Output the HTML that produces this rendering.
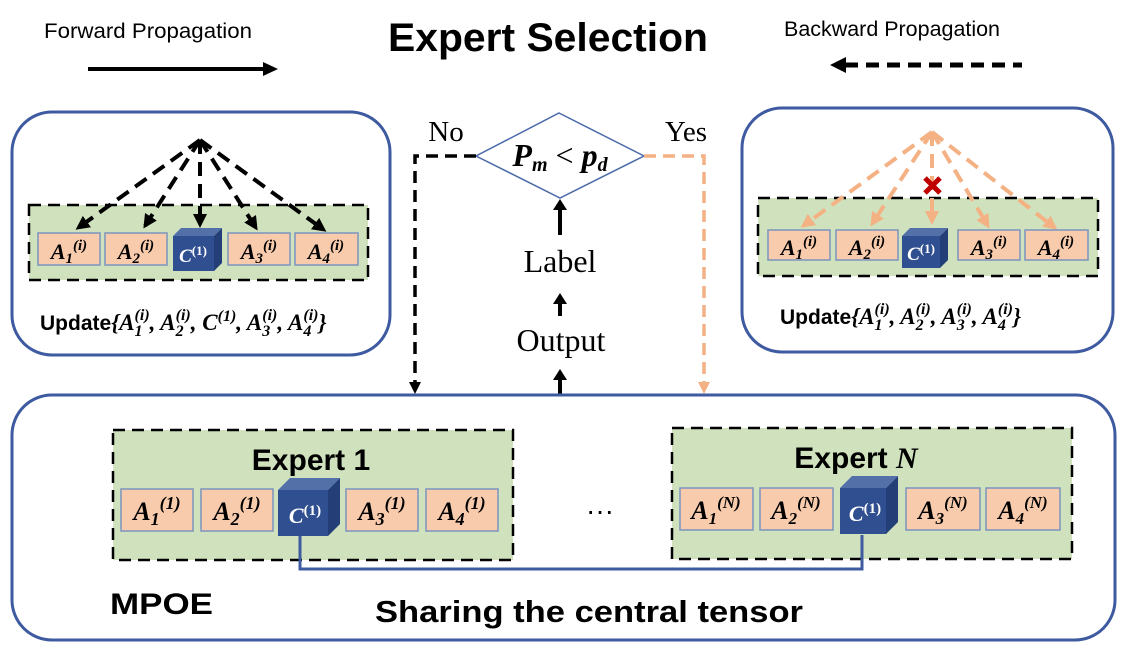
<!DOCTYPE html>
<html><head><meta charset="utf-8"><style>
html,body{margin:0;padding:0;background:#fff;}
svg{display:block;}
.s{font-family:"Liberation Sans",sans-serif;}
.m{font-family:"Liberation Serif",serif;font-style:italic;font-weight:bold;}
.r{font-family:"Liberation Serif",serif;}
</style></head><body>
<svg width="1128" height="656" viewBox="0 0 1128 656" xmlns="http://www.w3.org/2000/svg">
<defs>
<marker id="ao" markerWidth="14" markerHeight="14" refX="11" refY="7" orient="auto" markerUnits="userSpaceOnUse"><path d="M0,0 L14,7 L0,14 z" fill="#f4b183"/></marker>
<marker id="ak" markerWidth="14" markerHeight="14" refX="11" refY="7" orient="auto" markerUnits="userSpaceOnUse"><path d="M0,0 L14,7 L0,14 z" fill="#000"/></marker>
</defs>

<!-- header -->
<text x="148" y="38" class="s" font-size="21" text-anchor="middle" textLength="208" lengthAdjust="spacingAndGlyphs">Forward Propagation</text>
<line x1="88" y1="69" x2="265" y2="69" stroke="#000" stroke-width="4"/>
<path d="M263,62 L278,69 L263,76 z" fill="#000"/>
<text x="548" y="51" class="s" font-size="40" font-weight="bold" text-anchor="middle" textLength="320" lengthAdjust="spacingAndGlyphs">Expert Selection</text>
<text x="892" y="36" class="s" font-size="21" text-anchor="middle" textLength="216" lengthAdjust="spacingAndGlyphs">Backward Propagation</text>
<line x1="845" y1="65" x2="1022" y2="65" stroke="#000" stroke-width="5" stroke-dasharray="13,8"/>
<path d="M846,57 L830,65 L846,73 z" fill="#000"/>

<!-- left panel -->
<rect x="12" y="112" width="378" height="243" rx="40" fill="#fff" stroke="#3e5aa0" stroke-width="3"/>
<rect x="29" y="205" width="339" height="75" fill="#cfe2bd" stroke="#000" stroke-width="2.5" stroke-dasharray="12,7"/>
<g stroke="#000" stroke-width="4" stroke-dasharray="14,8" fill="none">
<line x1="200" y1="140" x2="78" y2="228" marker-end="url(#ak)"/>
<line x1="200" y1="140" x2="145" y2="226" marker-end="url(#ak)"/>
<line x1="200" y1="140" x2="200" y2="225" marker-end="url(#ak)"/>
<line x1="200" y1="140" x2="256" y2="228" marker-end="url(#ak)"/>
<line x1="200" y1="140" x2="324" y2="230" marker-end="url(#ak)"/>
</g>
<g fill="#f8cbad" stroke="#7b93bf" stroke-width="1.5">
<rect x="38" y="233" width="62" height="32"/><rect x="105" y="233" width="62" height="32"/>
<rect x="228" y="233" width="62" height="32"/><rect x="295" y="233" width="63" height="32"/>
</g>
<polygon points="173,236 181,228 222,228 214,236" fill="#5470a8"/>
<polygon points="214,236 222,228 222,263 214,271" fill="#243e78"/>
<rect x="173" y="236" width="41" height="35" fill="#2f4f90"/>
<g class="m" font-size="22" text-anchor="middle">
<text x="69" y="259">A<tspan font-size="15" dy="4">1</tspan><tspan font-size="15" dy="-13">(i)</tspan></text>
<text x="136" y="259">A<tspan font-size="15" dy="4">2</tspan><tspan font-size="15" dy="-13">(i)</tspan></text>
<text x="259" y="259">A<tspan font-size="15" dy="4">3</tspan><tspan font-size="15" dy="-13">(i)</tspan></text>
<text x="326" y="259">A<tspan font-size="15" dy="4">4</tspan><tspan font-size="15" dy="-13">(i)</tspan></text>
<text x="193" y="262" fill="#fff" font-size="19">C<tspan font-size="13" dy="-7" font-style="normal">(1)</tspan></text>
</g>
<text x="40" y="330" font-size="23"><tspan class="s" font-weight="bold" font-size="21">Update</tspan><tspan class="m" font-weight="normal">{A<tspan font-size="16" dy="6">1</tspan><tspan font-size="16" dx="-8" dy="-16">(i)</tspan><tspan dy="10">, A</tspan><tspan font-size="16" dy="6">2</tspan><tspan font-size="16" dx="-8" dy="-16">(i)</tspan><tspan dy="10">, C</tspan><tspan font-size="16" dy="-9">(1)</tspan><tspan dy="9">, A</tspan><tspan font-size="16" dy="6">3</tspan><tspan font-size="16" dx="-8" dy="-16">(i)</tspan><tspan dy="10">, A</tspan><tspan font-size="16" dy="6">4</tspan><tspan font-size="16" dx="-8" dy="-16">(i)</tspan><tspan dy="10">}</tspan></tspan></text>

<!-- right panel -->
<rect x="742" y="108" width="371" height="244" rx="40" fill="#fff" stroke="#3e5aa0" stroke-width="3"/>
<rect x="758" y="198" width="340" height="78" fill="#cfe2bd" stroke="#000" stroke-width="2.5" stroke-dasharray="12,7"/>
<g stroke="#f4b183" stroke-width="4" stroke-dasharray="14,8" fill="none">
<line x1="932" y1="132" x2="803" y2="226" marker-end="url(#ao)"/>
<line x1="932" y1="132" x2="872" y2="224" marker-end="url(#ao)"/>
<line x1="932" y1="132" x2="932" y2="222" marker-end="url(#ao)"/>
<line x1="932" y1="132" x2="988" y2="226" marker-end="url(#ao)"/>
<line x1="932" y1="132" x2="1055" y2="228" marker-end="url(#ao)"/>
</g>
<g stroke="#c00000" stroke-width="5"><line x1="925" y1="178" x2="940" y2="193"/><line x1="940" y1="178" x2="925" y2="193"/></g>
<g fill="#f8cbad" stroke="#7b93bf" stroke-width="1.5">
<rect x="768" y="230" width="62" height="30"/><rect x="836" y="230" width="62" height="30"/>
<rect x="958" y="230" width="62" height="30"/><rect x="1025" y="230" width="63" height="30"/>
</g>
<polygon points="902,236 910,228 948,228 940,236" fill="#5470a8"/>
<polygon points="940,236 948,228 948,260 940,268" fill="#243e78"/>
<rect x="902" y="236" width="38" height="32" fill="#2f4f90"/>
<g class="m" font-size="22" text-anchor="middle">
<text x="799" y="255">A<tspan font-size="15" dy="4">1</tspan><tspan font-size="15" dy="-13">(i)</tspan></text>
<text x="867" y="255">A<tspan font-size="15" dy="4">2</tspan><tspan font-size="15" dy="-13">(i)</tspan></text>
<text x="989" y="255">A<tspan font-size="15" dy="4">3</tspan><tspan font-size="15" dy="-13">(i)</tspan></text>
<text x="1056" y="255">A<tspan font-size="15" dy="4">4</tspan><tspan font-size="15" dy="-13">(i)</tspan></text>
<text x="921" y="260" fill="#fff" font-size="19">C<tspan font-size="13" dy="-7" font-style="normal">(1)</tspan></text>
</g>
<text x="780" y="324" font-size="23"><tspan class="s" font-weight="bold" font-size="21">Update</tspan><tspan class="m" font-weight="normal">{A<tspan font-size="16" dy="6">1</tspan><tspan font-size="16" dx="-8" dy="-16">(i)</tspan><tspan dy="10">, A</tspan><tspan font-size="16" dy="6">2</tspan><tspan font-size="16" dx="-8" dy="-16">(i)</tspan><tspan dy="10">, A</tspan><tspan font-size="16" dy="6">3</tspan><tspan font-size="16" dx="-8" dy="-16">(i)</tspan><tspan dy="10">, A</tspan><tspan font-size="16" dy="6">4</tspan><tspan font-size="16" dx="-8" dy="-16">(i)</tspan><tspan dy="10">}</tspan></tspan></text>

<!-- center decision -->
<polygon points="559,113 644,156 560,198 476,156" fill="#fff" stroke="#4a6aaa" stroke-width="1.5"/>
<text x="560" y="166" class="m" font-size="32" text-anchor="middle">P<tspan font-size="20" dy="5">m</tspan><tspan dy="-5" font-style="normal" font-weight="normal"> &lt; </tspan>p<tspan font-size="20" dy="5">d</tspan></text>
<text x="446" y="141" class="r" font-size="29" text-anchor="middle">No</text>
<text x="686" y="141" class="r" font-size="29" text-anchor="middle">Yes</text>
<polyline points="476,156 415,156 415,385" fill="none" stroke="#000" stroke-width="3.5" stroke-dasharray="12,7"/>
<path d="M409,382 L415,394 L421,382 z" fill="#000"/>
<polyline points="644,156 704,156 704,385" fill="none" stroke="#f4b183" stroke-width="3.5" stroke-dasharray="12,7"/>
<path d="M698,382 L704,394 L710,382 z" fill="#f4b183"/>
<g fill="#000">
<rect x="558" y="208" width="4" height="27"/><path d="M553,210 L560,199 L567,210 z"/>
<rect x="558" y="302" width="4" height="14"/><path d="M553,304 L560,293 L567,304 z"/>
<rect x="558" y="378" width="4" height="17"/><path d="M553,380 L560,369 L567,380 z"/>
</g>
<text x="560" y="272" class="r" font-size="32" text-anchor="middle">Label</text>
<text x="561" y="351" class="r" font-size="32" text-anchor="middle">Output</text>

<!-- bottom -->
<rect x="12" y="395" width="1103" height="245" rx="40" fill="#fff" stroke="#3e5aa0" stroke-width="3"/>
<rect x="113" y="430" width="400" height="130" fill="#cfe2bd" stroke="#000" stroke-width="2.5" stroke-dasharray="12,7"/>
<rect x="672" y="428" width="400" height="131" fill="#cfe2bd" stroke="#000" stroke-width="2.5" stroke-dasharray="12,7"/>
<polyline points="300,536 300,569 862,569 862,535" fill="none" stroke="#3e5aa0" stroke-width="3"/>
<text x="311" y="470" class="s" font-size="30" font-weight="bold" text-anchor="middle">Expert 1</text>
<text x="856" y="468" class="s" font-size="30" font-weight="bold" text-anchor="middle">Expert <tspan class="m">N</tspan></text>
<g fill="#f8cbad" stroke="#7b93bf" stroke-width="1.5">
<rect x="121" y="489" width="72" height="42"/><rect x="201" y="489" width="72" height="42"/>
<rect x="346" y="489" width="72" height="42"/><rect x="426" y="489" width="72" height="42"/>
<rect x="680" y="488" width="73" height="42"/><rect x="760" y="488" width="73" height="42"/>
<rect x="906" y="488" width="74" height="42"/><rect x="986" y="488" width="74" height="42"/>
</g>
<polygon points="278,490 290,478 340,478 328,490" fill="#5470a8"/>
<polygon points="328,490 340,478 340,524 328,536" fill="#243e78"/>
<rect x="278" y="490" width="50" height="46" fill="#2f4f90"/>
<polygon points="840,488 852,476 898,476 886,488" fill="#5470a8"/>
<polygon points="886,488 898,476 898,522 886,534" fill="#243e78"/>
<rect x="840" y="488" width="46" height="46" fill="#2f4f90"/>
<g class="m" font-size="26" text-anchor="middle">
<text x="157" y="520">A<tspan font-size="18" dy="5">1</tspan><tspan font-size="18" dy="-16">(1)</tspan></text>
<text x="237" y="520">A<tspan font-size="18" dy="5">2</tspan><tspan font-size="18" dy="-16">(1)</tspan></text>
<text x="382" y="520">A<tspan font-size="18" dy="5">3</tspan><tspan font-size="18" dy="-16">(1)</tspan></text>
<text x="462" y="520">A<tspan font-size="18" dy="5">4</tspan><tspan font-size="18" dy="-16">(1)</tspan></text>
<text x="716" y="519">A<tspan font-size="17" dy="5">1</tspan><tspan font-size="17" dy="-16">(N)</tspan></text>
<text x="796" y="519">A<tspan font-size="17" dy="5">2</tspan><tspan font-size="17" dy="-16">(N)</tspan></text>
<text x="943" y="519">A<tspan font-size="17" dy="5">3</tspan><tspan font-size="17" dy="-16">(N)</tspan></text>
<text x="1023" y="519">A<tspan font-size="17" dy="5">4</tspan><tspan font-size="17" dy="-16">(N)</tspan></text>
<text x="305" y="523" fill="#fff" font-size="22">C<tspan font-size="15" dy="-8" font-style="normal">(1)</tspan></text>
<text x="865" y="521" fill="#fff" font-size="22">C<tspan font-size="15" dy="-8" font-style="normal">(1)</tspan></text>
</g>
<text x="600" y="520" class="s" font-size="28" text-anchor="middle">···</text>
<text x="110" y="614" class="s" font-size="30" font-weight="bold" textLength="103" lengthAdjust="spacingAndGlyphs">MPOE</text>
<text x="589" y="622" class="s" font-size="31" font-weight="bold" text-anchor="middle" textLength="428" lengthAdjust="spacingAndGlyphs">Sharing the central tensor</text>
</svg>
</body></html>
